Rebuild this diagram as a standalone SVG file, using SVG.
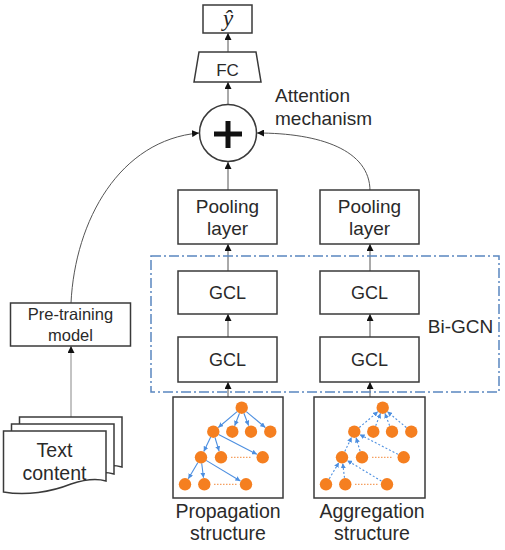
<svg xmlns="http://www.w3.org/2000/svg" xmlns:xlink="http://www.w3.org/1999/xlink" width="505" height="550" viewBox="0 0 505 550">
<style>
.box{fill:#fff;stroke:#3a3a3a;stroke-width:1.5}
.t{font-family:"Liberation Sans",Arial,sans-serif;fill:#2a2a2a;text-anchor:middle}
.conn{fill:none;stroke:#555;stroke-width:1}
.tree{stroke:#4d8fe0;stroke-width:1.1;fill:none}
.agg{stroke-dasharray:2 2}
.node{fill:#f57f20}
.dots{stroke:#f5a060;stroke-width:1.3;stroke-dasharray:1.5 1.5}
</style>
<defs>
<marker id="ah" viewBox="0 0 10 10" refX="10" refY="5" markerWidth="7" markerHeight="7" markerUnits="userSpaceOnUse" orient="auto">
<path d="M0,0 L10,5 L0,10 Z" fill="#111"/>
</marker>
<marker id="bh" viewBox="0 0 10 10" refX="10" refY="5" markerWidth="5" markerHeight="5" markerUnits="userSpaceOnUse" orient="auto">
<path d="M0,0 L10,5 L0,10 Z" fill="#4d8fe0"/>
</marker>
<g id="treeNodes">
<circle class="node" cx="241.7" cy="407.7" r="6.2"/>
<circle class="node" cx="213.3" cy="431.7" r="6.2"/>
<circle class="node" cx="232.3" cy="431.7" r="6.2"/>
<circle class="node" cx="251" cy="431.7" r="6.2"/>
<circle class="node" cx="270.3" cy="431.7" r="6.2"/>
<circle class="node" cx="201" cy="457.3" r="6.2"/>
<circle class="node" cx="221" cy="457.3" r="6.2"/>
<circle class="node" cx="262.7" cy="457.3" r="6.2"/>
<circle class="node" cx="185" cy="484.3" r="6.2"/>
<circle class="node" cx="204.3" cy="484.3" r="6.2"/>
<circle class="node" cx="246" cy="484.3" r="6.2"/>
<line class="dots" x1="231" y1="457.3" x2="252" y2="457.3"/>
<line class="dots" x1="214" y1="484.3" x2="237" y2="484.3"/>
</g>
<path id="doc" d="M3.5,431 H106 V481 C96,478 86,479 71,484 C51,492 26,496 3.5,492 Z" fill="#fff" stroke="#3a3a3a" stroke-width="1.5"/>
</defs>

<g id="connectors">
<line class="conn" x1="228" y1="52" x2="228" y2="33" marker-end="url(#ah)"/>
<line class="conn" x1="228" y1="105" x2="228" y2="82" marker-end="url(#ah)"/>
<line class="conn" x1="228" y1="190" x2="228" y2="162" marker-end="url(#ah)"/>
<path class="conn" d="M71,303 C75,220 120,140 199,133" marker-end="url(#ah)"/>
<path class="conn" d="M370,191 C370,150 320,133 257,133" marker-end="url(#ah)"/>
<line class="conn" x1="228" y1="271" x2="228" y2="244" marker-end="url(#ah)"/>
<line class="conn" x1="370" y1="271" x2="370" y2="244" marker-end="url(#ah)"/>
<line class="conn" x1="228" y1="337" x2="228" y2="314" marker-end="url(#ah)"/>
<line class="conn" x1="370" y1="337" x2="370" y2="314" marker-end="url(#ah)"/>
<line class="conn" x1="228" y1="397" x2="228" y2="382" marker-end="url(#ah)"/>
<line class="conn" x1="370" y1="397" x2="370" y2="382" marker-end="url(#ah)"/>
<line class="conn" x1="71" y1="417" x2="71" y2="346" marker-end="url(#ah)" style="stroke:#888"/>
</g>

<g id="bigcn">
<rect x="151" y="256" width="348" height="136" fill="none" stroke="#5a86c0" stroke-width="1.5" stroke-dasharray="10 3 2 3"/>
<text class="t" x="460.5" y="333" font-size="19">Bi-GCN</text>
</g>

<g id="yhat">
<rect class="box" x="203" y="5" width="49" height="28"/>
<text x="228" y="26" font-family="Liberation Serif,Times New Roman,serif" font-style="italic" font-size="23" text-anchor="middle" fill="#222">ŷ</text>
</g>

<g id="fc">
<path class="box" d="M199,52 H256 L261,82 H194 Z"/>
<text class="t" x="227.5" y="76" font-size="17">FC</text>
</g>

<g id="attention">
<circle class="box" cx="228" cy="133" r="28.5"/>
<line x1="214" y1="134" x2="242" y2="134" stroke="#111" stroke-width="5"/>
<line x1="228" y1="121" x2="228" y2="148" stroke="#111" stroke-width="5"/>
<text class="t" x="275" y="102" font-size="19" style="text-anchor:start">Attention</text>
<text class="t" x="275" y="125" font-size="19" style="text-anchor:start">mechanism</text>
</g>

<g id="pool1">
<rect class="box" x="178" y="190" width="99" height="54"/>
<text class="t" x="227.5" y="213" font-size="19">Pooling</text>
<text class="t" x="227.5" y="235" font-size="19">layer</text>
</g>
<g id="pool2">
<rect class="box" x="320" y="190" width="99" height="54"/>
<text class="t" x="369.5" y="213" font-size="19">Pooling</text>
<text class="t" x="369.5" y="235" font-size="19">layer</text>
</g>

<g id="gcl1a">
<rect class="box" x="178" y="271" width="99" height="43"/>
<text class="t" x="227.5" y="299" font-size="18">GCL</text>
</g>
<g id="gcl2a">
<rect class="box" x="320" y="271" width="99" height="43"/>
<text class="t" x="369.5" y="299" font-size="18">GCL</text>
</g>
<g id="gcl1b">
<rect class="box" x="178" y="337" width="99" height="45"/>
<text class="t" x="227.5" y="366" font-size="18">GCL</text>
</g>
<g id="gcl2b">
<rect class="box" x="320" y="337" width="99" height="45"/>
<text class="t" x="369.5" y="366" font-size="18">GCL</text>
</g>

<g id="propagation">
<rect class="box" x="173" y="397" width="110" height="101"/>
<g class="tree">
<line x1="237.1" y1="411.6" x2="218.3" y2="427.5" marker-end="url(#bh)"/>
<line x1="239.5" y1="413.3" x2="234.7" y2="425.7" marker-end="url(#bh)"/>
<line x1="243.9" y1="413.3" x2="248.6" y2="425.6" marker-end="url(#bh)"/>
<line x1="246.3" y1="411.6" x2="265.3" y2="427.5" marker-end="url(#bh)"/>
<line x1="210.7" y1="437.1" x2="203.8" y2="451.4" marker-end="url(#bh)"/>
<line x1="215" y1="437.5" x2="219.1" y2="451.1" marker-end="url(#bh)"/>
<line x1="218.6" y1="434.5" x2="256.9" y2="454.3" marker-end="url(#bh)"/>
<line x1="197.9" y1="462.5" x2="188.3" y2="478.7" marker-end="url(#bh)"/>
<line x1="201.7" y1="463.3" x2="203.5" y2="477.8" marker-end="url(#bh)"/>
<line x1="206.1" y1="460.4" x2="240.4" y2="481" marker-end="url(#bh)"/>
</g>
<use xlink:href="#treeNodes"/>
<text class="t" x="228" y="518" font-size="19.5">Propagation</text>
<text class="t" x="228" y="540" font-size="19.5">structure</text>
</g>

<g id="aggregation">
<rect class="box" x="314" y="397" width="111" height="101"/>
<g class="tree agg" transform="translate(141,0)">
<line x2="237.1" y2="411.6" x1="218.3" y1="427.5" marker-end="url(#bh)"/>
<line x2="239.5" y2="413.3" x1="234.7" y1="425.7" marker-end="url(#bh)"/>
<line x2="243.9" y2="413.3" x1="248.6" y1="425.6" marker-end="url(#bh)"/>
<line x2="246.3" y2="411.6" x1="265.3" y1="427.5" marker-end="url(#bh)"/>
<line x2="210.7" y2="437.1" x1="203.8" y1="451.4" marker-end="url(#bh)"/>
<line x2="215" y2="437.5" x1="219.1" y1="451.1" marker-end="url(#bh)"/>
<line x2="218.6" y2="434.5" x1="256.9" y1="454.3" marker-end="url(#bh)"/>
<line x2="197.9" y2="462.5" x1="188.3" y1="478.7" marker-end="url(#bh)"/>
<line x2="201.7" y2="463.3" x1="203.5" y1="477.8" marker-end="url(#bh)"/>
<line x2="206.1" y2="460.4" x1="240.4" y1="481" marker-end="url(#bh)"/>
</g>
<use xlink:href="#treeNodes" x="141"/>
<text class="t" x="372" y="518" font-size="19.5">Aggregation</text>
<text class="t" x="372" y="540" font-size="19.5">structure</text>
</g>

<g id="pretraining">
<rect class="box" x="10.5" y="303" width="120" height="43"/>
<text class="t" x="70.5" y="320" font-size="16.5">Pre-training</text>
<text class="t" x="70.5" y="341" font-size="16.5">model</text>
</g>

<g id="textcontent">
<use xlink:href="#doc" transform="translate(16,-14)"/>
<use xlink:href="#doc" transform="translate(8,-7)"/>
<use xlink:href="#doc"/>
<text class="t" x="54.5" y="457" font-size="19.5">Text</text>
<text class="t" x="54.5" y="480" font-size="19.5">content</text>
</g>
</svg>
